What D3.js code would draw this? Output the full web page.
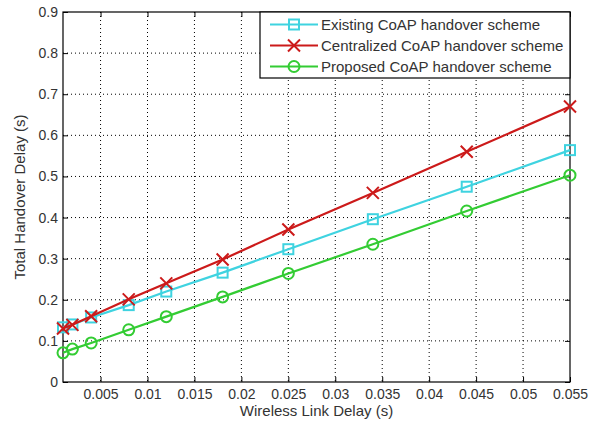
<!DOCTYPE html>
<html><head><meta charset="utf-8">
<script src="https://cdn.jsdelivr.net/npm/d3@7"></script>
<style>body{margin:0;background:#fff;} text{font-family:"Liberation Sans",Arial,sans-serif;}</style>
</head><body>
<svg id="c" width="597" height="423"></svg>
<script>
const xValues = [0.001, 0.002, 0.004, 0.008, 0.012, 0.018, 0.025, 0.034, 0.044, 0.055];
const existing = [0.133, 0.14, 0.157, 0.187, 0.22, 0.266, 0.323, 0.396, 0.475, 0.564];
const centralized = [0.13, 0.139, 0.16, 0.201, 0.24, 0.298, 0.371, 0.46, 0.56, 0.67];
const proposed = [0.071, 0.08, 0.095, 0.127, 0.159, 0.207, 0.264, 0.335, 0.416, 0.503];
const seriesNames = ["Existing CoAP handover scheme", "Centralized CoAP handover scheme", "Proposed CoAP handover scheme"];
const xTicks = [0.005, 0.01, 0.015, 0.02, 0.025, 0.03, 0.035, 0.04, 0.045, 0.05, 0.055];
const yTicks = [0, 0.1, 0.2, 0.3, 0.4, 0.5, 0.6, 0.7, 0.8, 0.9];

const svg = d3.select("#c");
const L = 63, T = 12, R = 570, B = 382;
const x = d3.scaleLinear().domain([0.001, 0.055]).range([L, R]);
const y = d3.scaleLinear().domain([0, 0.9]).range([B, T]);

// grid
const g = svg.append("g");
g.selectAll(".gx").data(xTicks.filter(t => t < 0.055)).enter().append("line")
  .attr("x1", d => x(d)).attr("x2", d => x(d)).attr("y1", T).attr("y2", B)
  .attr("stroke", "#000").attr("stroke-width", 1).attr("stroke-dasharray", "1,3");
g.selectAll(".gy").data(yTicks.filter(t => t > 0 && t < 0.9)).enter().append("line")
  .attr("x1", L).attr("x2", R).attr("y1", d => y(d)).attr("y2", d => y(d))
  .attr("stroke", "#000").attr("stroke-width", 1).attr("stroke-dasharray", "1,3");

// axes
const fmt = d => d === 0 ? "0" : String(+d.toFixed(3));
svg.append("g").attr("transform", `translate(0,${B})`)
  .call(d3.axisBottom(x).tickValues(xTicks).tickFormat(fmt).tickSizeInner(-5).tickSizeOuter(0).tickPadding(7));
svg.append("g").attr("transform", `translate(${L},0)`)
  .call(d3.axisLeft(y).tickValues(yTicks).tickFormat(fmt).tickSizeInner(-5).tickSizeOuter(0).tickPadding(5));
svg.append("g").attr("transform", `translate(0,${T})`)
  .call(d3.axisTop(x).tickValues(xTicks).tickFormat("").tickSizeInner(-5).tickSizeOuter(0));
svg.append("g").attr("transform", `translate(${R},0)`)
  .call(d3.axisRight(y).tickValues(yTicks).tickFormat("").tickSizeInner(-5).tickSizeOuter(0));
svg.selectAll(".domain").remove();
svg.selectAll(".tick line").attr("stroke", "#000");
svg.selectAll(".tick text").attr("font-size", 14).attr("fill", "#333").attr("font-family", "Liberation Sans, Arial, sans-serif");
svg.append("rect").attr("x", L).attr("y", T).attr("width", R - L).attr("height", B - T)
  .attr("fill", "none").attr("stroke", "#000").attr("stroke-width", 1.2);

// labels
svg.append("text").attr("x", (L + R) / 2).attr("y", 416).attr("text-anchor", "middle")
  .attr("font-size", 15).attr("fill", "#333").text("Wireless Link Delay (s)");
svg.append("text").attr("transform", `translate(25,${(T + B) / 2}) rotate(-90)`).attr("text-anchor", "middle")
  .attr("font-size", 15).attr("fill", "#333").text("Total Handover Delay (s)");

const colors = ["#3fd3e0", "#cc1a1a", "#33cc33"];
const data = [existing, centralized, proposed];
const line = d3.line().x((d, i) => x(xValues[i])).y(d => y(d));

function marker(sel, type, color) {
  if (type === 0) {
    sel.append("rect").attr("x", -5).attr("y", -5).attr("width", 10).attr("height", 10)
      .attr("fill", "none").attr("stroke", color).attr("stroke-width", 2);
  } else if (type === 1) {
    sel.append("path").attr("d", "M-6,-6L6,6M-6,6L6,-6").attr("stroke", color).attr("stroke-width", 2);
  } else {
    sel.append("circle").attr("r", 5.5).attr("fill", "none").attr("stroke", color).attr("stroke-width", 2);
  }
}

data.forEach((s, k) => {
  svg.append("path").datum(s).attr("d", line).attr("fill", "none")
    .attr("stroke", colors[k]).attr("stroke-width", 2.2);
  s.forEach((v, i) => {
    const m = svg.append("g").attr("transform", `translate(${x(xValues[i])},${y(v)})`);
    marker(m, k, colors[k]);
  });
});

// legend
const lg = svg.append("g");
lg.append("rect").attr("x", 260).attr("y", T).attr("width", R - 260).attr("height", 66)
  .attr("fill", "#fff").attr("stroke", "#000").attr("stroke-width", 1.2);
seriesNames.forEach((n, k) => {
  const yy = 24.5 + k * 21;
  lg.append("line").attr("x1", 270).attr("x2", 318).attr("y1", yy).attr("y2", yy)
    .attr("stroke", colors[k]).attr("stroke-width", 2.2);
  marker(lg.append("g").attr("transform", `translate(294,${yy})`), k, colors[k]);
  lg.append("text").attr("x", 321).attr("y", yy + 5.5).attr("font-size", 15).attr("fill", "#333").text(n);
});
</script>
</body></html>
